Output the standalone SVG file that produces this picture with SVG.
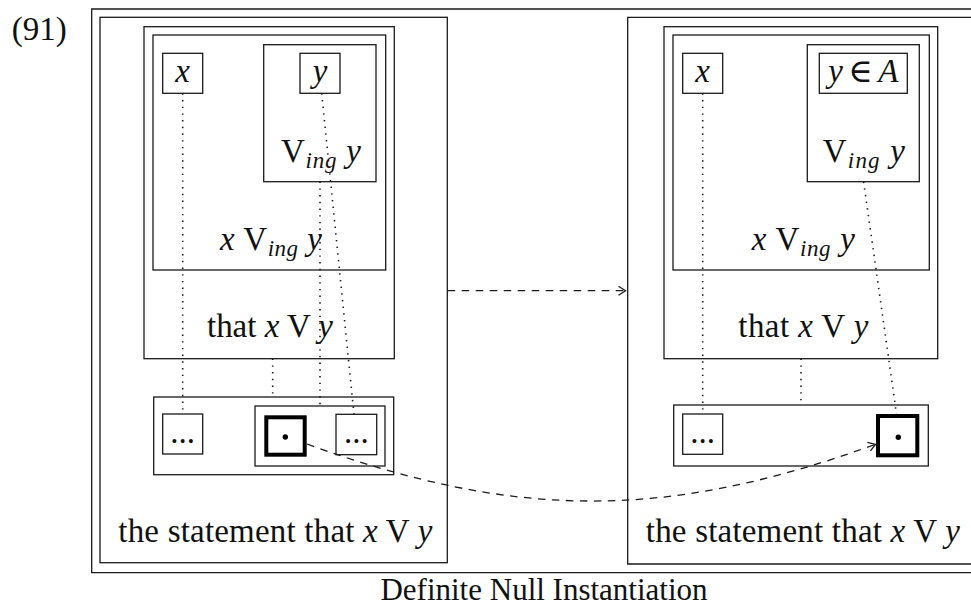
<svg xmlns="http://www.w3.org/2000/svg" width="971" height="608" viewBox="0 0 971 608">
<style>
.box{fill:none;stroke:#1a1a1a;stroke-width:1.3}
.thick{fill:none;stroke:#000;stroke-width:4}
.dot{fill:none;stroke:#1a1a1a;stroke-width:1.6;stroke-dasharray:1.4 5.3}
.dash{fill:none;stroke:#1a1a1a;stroke-width:1.3;stroke-dasharray:7.5 6.5}
text{font-family:"Liberation Serif","DejaVu Serif",serif;font-size:33px;fill:#111}
.i{font-style:italic}
.sub{font-size:23px;font-style:italic}
.c{text-anchor:middle}
.cap{font-size:31px}
</style>
<defs>
<marker id="arr" markerUnits="userSpaceOnUse" markerWidth="14" markerHeight="14" viewBox="-10 -7 14 14" refX="0" refY="0" orient="auto">
<path d="M-7,-4.5 L0,0 L-7,4.5" fill="none" stroke="#1a1a1a" stroke-width="1.3"/>
</marker>
</defs>

<g id="label">
<text x="11.7" y="40" font-size="27">(91)</text>
</g>

<g id="outer-frame">
<path class="box" d="M971,9 H91.7 V572.7 H971"/>
</g>

<g id="left-panel">
<rect class="box" x="100" y="17.3" width="347.3" height="545.4"/>
<text class="c" x="275.3" y="541.7" textLength="314" lengthAdjust="spacing">the statement that <tspan class="i">x</tspan> V <tspan class="i">y</tspan></text>
</g>
<g id="left-that">
<rect class="box" x="144" y="26.7" width="250.3" height="332"/>
<text class="c" x="270" y="336.7" textLength="126" lengthAdjust="spacing">that <tspan class="i">x</tspan> V <tspan class="i">y</tspan></text>
</g>
<g id="left-xvingy">
<rect class="box" x="153" y="35" width="232.7" height="235"/>
<text class="c" x="271" y="250" textLength="102" lengthAdjust="spacing"><tspan class="i">x</tspan> V<tspan class="sub" dy="6">ing</tspan><tspan dy="-6"> </tspan><tspan class="i">y</tspan></text>
</g>
<g id="left-x">
<rect class="box" x="162.7" y="53.3" width="40" height="40"/>
<text class="c i" x="182.7" y="81.5">x</text>
</g>
<g id="left-vingy">
<rect class="box" x="263.7" y="44.7" width="112.3" height="137"/>
<text class="c" x="321" y="162.3" textLength="80" lengthAdjust="spacing">V<tspan class="sub" dy="6">ing</tspan><tspan dy="-6"> </tspan><tspan class="i">y</tspan></text>
</g>
<g id="left-y">
<rect class="box" x="300" y="53.3" width="40" height="40"/>
<text class="c i" x="320" y="81.5">y</text>
</g>
<g id="left-frame">
<rect class="box" x="153.7" y="397" width="240" height="77.7"/>
</g>
<g id="left-dots1">
<rect class="box" x="162.7" y="414" width="40" height="40"/>
<text class="c" x="182.7" y="443" font-size="28">...</text>
</g>
<g id="left-group">
<rect class="box" x="255" y="406" width="130" height="60"/>
</g>
<g id="left-null">
<rect class="thick" x="266.3" y="417.3" width="38.4" height="37.4"/>
<circle cx="285.3" cy="437" r="2.7" fill="#000"/>
</g>
<g id="left-dots2">
<rect class="box" x="336" y="414.3" width="40.7" height="40.4"/>
<text class="c" x="356.3" y="443" font-size="28">...</text>
</g>

<g id="right-panel">
<path class="box" d="M971,17.3 H627.7 V564 H971"/>
<text class="c" x="802.8" y="541.7" textLength="314" lengthAdjust="spacing">the statement that <tspan class="i">x</tspan> V <tspan class="i">y</tspan></text>
</g>
<g id="right-that">
<rect class="box" x="664" y="26.7" width="273.7" height="332"/>
<text class="c" x="803.3" y="336.7" textLength="130" lengthAdjust="spacing">that <tspan class="i">x</tspan> V <tspan class="i">y</tspan></text>
</g>
<g id="right-xvingy">
<rect class="box" x="673" y="35" width="256.3" height="235"/>
<text class="c" x="803.3" y="250" textLength="103" lengthAdjust="spacing"><tspan class="i">x</tspan> V<tspan class="sub" dy="6">ing</tspan><tspan dy="-6"> </tspan><tspan class="i">y</tspan></text>
</g>
<g id="right-x">
<rect class="box" x="682.7" y="53.3" width="40" height="40"/>
<text class="c i" x="702.7" y="81.5">x</text>
</g>
<g id="right-vingy">
<rect class="box" x="807.3" y="44.7" width="112" height="137"/>
<text class="c" x="863.8" y="162.3" textLength="82" lengthAdjust="spacing">V<tspan class="sub" dy="6">ing</tspan><tspan dy="-6"> </tspan><tspan class="i">y</tspan></text>
</g>
<g id="right-yinA">
<rect class="box" x="819.3" y="53.3" width="88" height="40"/>
<text class="c" x="863.3" y="81.5" textLength="70" lengthAdjust="spacing"><tspan class="i">y</tspan> ∈ <tspan class="i">A</tspan></text>
</g>
<g id="right-frame">
<rect class="box" x="673.7" y="405" width="254.6" height="61"/>
</g>
<g id="right-dots">
<rect class="box" x="682.7" y="414" width="40" height="40.3"/>
<text class="c" x="702.7" y="443" font-size="28">...</text>
</g>
<g id="right-null">
<rect class="thick" x="878" y="416" width="39.3" height="39.3"/>
<circle cx="898.3" cy="437.3" r="2.7" fill="#000"/>
</g>

<g id="connectors">
<path class="dot" d="M182.7,93.3 V414"/>
<path class="dot" d="M321.7,93.3 L354,414.3"/>
<path class="dot" d="M320,181.7 V406"/>
<path class="dot" d="M272.7,358.7 V397"/>
<path class="dot" d="M702.7,93.3 V414"/>
<path class="dot" d="M863.6,181.7 L896.5,414"/>
<path class="dot" d="M801,358.7 V405"/>
<path class="dash" d="M447.7,290.7 H625.5" marker-end="url(#arr)"/>
<path class="dash" d="M307,444 C516,520 667,520 875.5,444.3" marker-end="url(#arr)"/>
</g>

<g id="caption">
<text class="c cap" x="544" y="600">Definite Null Instantiation</text>
</g>
</svg>
